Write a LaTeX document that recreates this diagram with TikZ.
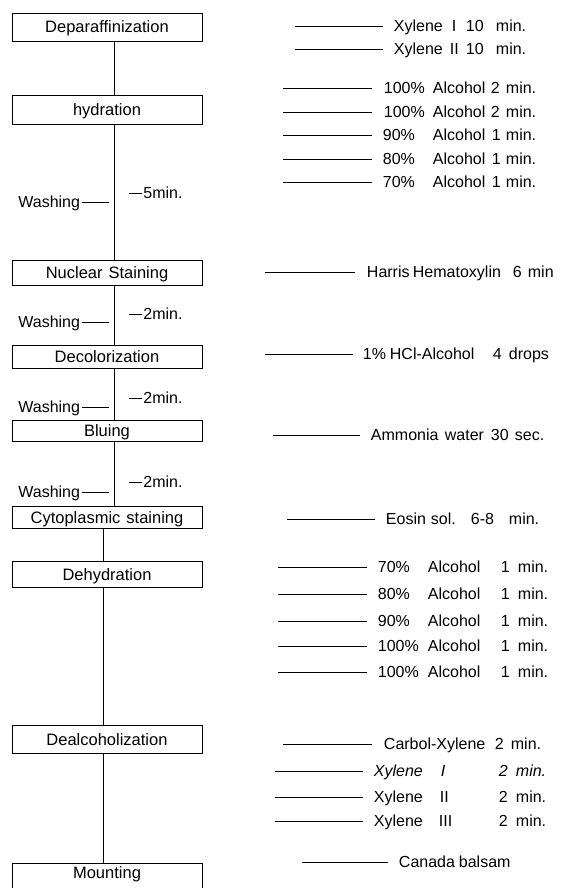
\documentclass[tikz,border=0pt]{standalone}
\usepackage{fontspec}
\setmainfont{Liberation Sans}
\newcommand\pc[2]{\makebox[0pt][l]{\hspace*{#1pt}#2}}
\newcommand\rrow[5]{%
  \coordinate (#1s) at (#3,#2);
  \node[rt] (#1) at (#4,#2) {#5};
  \draw (#1s) -- (#1.west);}
\newcommand\wash[5]{%
  \node[lbl, anchor=east, outer xsep=2pt] (#1) at (82,#2) {Washing};
  \coordinate (#1e) at (109,#2);
  \draw (#1) -- (#1e);
  \coordinate (#1ms) at (129,#3);
  \node[rt, inner xsep=1pt] (#1m) at (142,#3) {#4};
  \draw (#1ms) -- (#1m.west);}
\begin{document}
\begin{tikzpicture}[x=1pt,y=-1pt, line width=0.9pt,
  box/.style={draw, line width=0.9pt, minimum width=190pt, inner xsep=0pt,
    inner ysep=0pt, text height=12pt, text depth=0pt,
    font=\fontsize{16.5}{18}\selectfont},
  lbl/.style={inner sep=0pt, text height=11.5pt, text depth=0pt,
    font=\fontsize{16}{18}\selectfont},
  rt/.style={lbl, anchor=west},
]
\useasboundingbox (0,0) rectangle (566,888);
\clip (0,0) rectangle (566,888);

% main boxes
\node[box, minimum height=28pt] (b1) at (107,27) {Deparaffinization};
\node[box, minimum height=29pt] (b2) at (107,109.5) {hydration};
\node[box, minimum height=25pt] (b3) at (107,272.5) {Nuclear\hspace{6pt}Staining};
\node[box, minimum height=23pt] (b4) at (107,356.5) {Decolorization};
\node[box, minimum height=21pt] (b5) at (107,430.5) {Bluing};
\node[box, minimum height=22pt] (b6) at (107,517) {Cytoplasmic\hspace{6pt}staining};
\node[box, minimum height=26pt] (b7) at (107,574) {Dehydration};
\node[box, minimum height=28pt] (b8) at (107,739) {Dealcoholization};
\node[box, anchor=north, inner ysep=3pt, text depth=25pt] (b9) at (107,863) {Mounting};

% flow lines
\draw ([xshift=7pt]b1.south) -- ([xshift=7pt]b2.north);
\draw ([xshift=7pt]b2.south) -- ([xshift=7pt]b3.north);
\draw ([xshift=7pt]b3.south) -- ([xshift=7pt]b4.north);
\draw ([xshift=7pt]b4.south) -- ([xshift=7pt]b5.north);
\draw ([xshift=7pt]b5.south) -- ([xshift=7pt]b6.north);
\draw ([xshift=-4pt]b6.south) -- ([xshift=-4pt]b7.north);
\draw ([xshift=-4pt]b7.south) -- ([xshift=-4pt]b8.north);
\draw ([xshift=-4pt]b8.south) -- ([xshift=-4pt]b9.north);

% washing steps
\wash{wa}{202}{193}{5min.}{}
\wash{wb}{322}{314}{2min.}{}
\wash{wc}{407}{398}{2min.}{}
\wash{wd}{492}{482}{2min.}{}

% right column
\rrow{r1}{26}{295}{383}{\pc{10}{Xylene}\pc{68}{I}\pc{82}{10}\pc{112}{min.}}
\rrow{r2}{49}{295}{383}{\pc{10}{Xylene}\pc{66}{II}\pc{82}{10}\pc{112}{min.}}

\rrow{r3}{88}{283}{372}{\pc{11}{100\%}\pc{60}{Alcohol}\pc{118}{2}\pc{133}{min.}}
\rrow{r4}{112}{283}{372}{\pc{11}{100\%}\pc{60}{Alcohol}\pc{118}{2}\pc{133}{min.}}
\rrow{r5}{135}{283}{372}{\pc{10}{90\%}\pc{60}{Alcohol}\pc{119}{1}\pc{133}{min.}}
\rrow{r6}{159}{283}{372}{\pc{10}{80\%}\pc{60}{Alcohol}\pc{119}{1}\pc{133}{min.}}
\rrow{r7}{182}{283}{372}{\pc{10}{70\%}\pc{60}{Alcohol}\pc{119}{1}\pc{133}{min.}}

\rrow{r8}{272}{265}{355}{\pc{11}{Harris}\pc{57}{Hematoxylin}\pc{157}{6}\pc{172}{min}}
\rrow{r9}{354}{265}{353}{\pc{9}{1\%}\pc{36}{HCl-Alcohol}\pc{139}{4}\pc{155}{drops}}
\rrow{r10}{435}{273}{360}{\pc{10}{Ammonia}\pc{84}{water}\pc{130}{30}\pc{154}{sec.}}
\rrow{r11}{519}{287}{375}{\pc{10}{Eosin}\pc{55}{sol.}\pc{95}{6-8}\pc{133}{min.}}

\rrow{r12}{567}{278}{367}{\pc{10}{70\%}\pc{60}{Alcohol}\pc{133}{1}\pc{150}{min.}}
\rrow{r13}{594}{278}{367}{\pc{10}{80\%}\pc{60}{Alcohol}\pc{133}{1}\pc{150}{min.}}
\rrow{r14}{621}{278}{367}{\pc{10}{90\%}\pc{60}{Alcohol}\pc{133}{1}\pc{150}{min.}}
\rrow{r15}{646}{278}{367}{\pc{10}{100\%}\pc{60}{Alcohol}\pc{133}{1}\pc{150}{min.}}
\rrow{r16}{672}{278}{367}{\pc{10}{100\%}\pc{60}{Alcohol}\pc{133}{1}\pc{150}{min.}}

\rrow{r17}{744}{283}{372}{\pc{11}{Carbol-Xylene}\pc{122}{2}\pc{138}{min.}}
\rrow{r18}{771}{275}{363}{\itshape\pc{10}{Xylene}\pc{77}{I}\pc{135}{2}\pc{152}{min.}}
\rrow{r19}{797}{275}{363}{\pc{10}{Xylene}\pc{76}{II}\pc{135}{2}\pc{152}{min.}}
\rrow{r20}{821}{275}{363}{\pc{10}{Xylene}\pc{75}{III}\pc{135}{2}\pc{152}{min.}}

\rrow{r21}{862}{302}{388}{\pc{10}{Canada}\pc{70}{balsam}}
\end{tikzpicture}
\end{document}
